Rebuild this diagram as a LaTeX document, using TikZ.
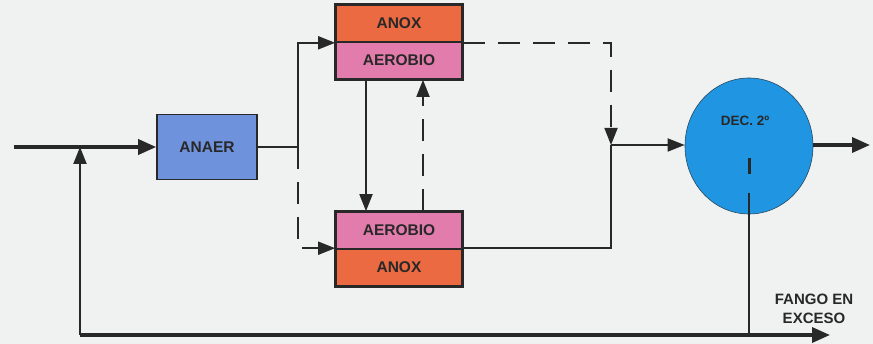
\documentclass[tikz,border=0pt]{standalone}
\usepackage{fontspec}
\setmainfont{Liberation Sans}
\usetikzlibrary{arrows.meta,shapes.geometric}
\definecolor{bgpaper}{RGB}{240,241,241}
\definecolor{anoxcol}{RGB}{236,106,66}
\definecolor{aerocol}{RGB}{226,124,172}
\definecolor{anaercol}{RGB}{110,146,220}
\definecolor{deccol}{RGB}{32,150,226}
\definecolor{linecol}{RGB}{40,40,40}
\tikzset{
  half/.style={draw=linecol,line width=1.6pt,minimum width=126pt,minimum height=37pt,
    inner sep=0pt,font=\bfseries\fontsize{15.5}{17}\selectfont,text=linecol},
  flow/.style={draw=linecol,line width=1.8pt,-{Triangle[length=17pt,width=13pt]}},
  plain/.style={draw=linecol,line width=1.8pt},
  main/.style={draw=linecol,line width=3.5pt,-{Triangle[length=18pt,width=15pt]}},
  dashflow/.style={flow,dash pattern=on 22pt off 13pt},
}
\begin{document}
\begin{tikzpicture}[x=1pt,y=1pt]
\fill[bgpaper] (0,0) rectangle (873,-344);
\useasboundingbox (0,0) rectangle (873,-344);
% reactors
\node[half,fill=anaercol,minimum width=100pt,minimum height=65pt] (anaer) at (207,-147) {ANAER};
\node[half,fill=anoxcol] (anoxA) at (399,-23.5) {ANOX};
\node[half,fill=aerocol] (aerA) at (399,-60.5) {AEROBIO};
\node[half,fill=aerocol] (aerB) at (399,-230.5) {AEROBIO};
\node[half,fill=anoxcol] (anoxB) at (399,-267.5) {ANOX};
\draw[linecol,line width=1.6pt] (anoxA.north west) rectangle (aerA.south east);
\draw[linecol,line width=1.6pt] (aerB.north west) rectangle (anoxB.south east);
\node[ellipse,draw=linecol!70!deccol,line width=0.6pt,fill=deccol,minimum width=128pt,minimum height=136pt,
  inner sep=0pt] (dec) at (749,-146) {};
\node[font=\bfseries\fontsize{13.5}{15}\selectfont,text=linecol] (declab) at (745,-121) {DEC. 2º};
\node[font=\bfseries\fontsize{15}{19}\selectfont,text=linecol,align=center] (fango) at (814,-309) {FANGO EN\\EXCESO};
% points of the lines
\coordinate (in) at (14,-147);
\coordinate (spl) at (298,-147);
\coordinate (jn) at (611,-145);
\coordinate (out) at (870,-145);
\coordinate (fb) at (80,-335);
\coordinate (purge) at (830,-335);
\coordinate (drawoff) at (749,-193);
\coordinate (markA) at (749,-158);
\coordinate (markB) at (749,-174);
% connectors
\draw[main] (in) -- (anaer.west);
\draw[plain] (anaer.east) -- (spl);
\draw[flow] (spl) |- (anoxA.south west);
\draw[dashflow] (spl) |- (anoxB.north west);
\draw[flow] (aerA.south west -| 366,0) -- (aerB.north west -| 366,0);
\draw[dashflow] (aerB.north west -| 423,0) -- (aerA.south west -| 423,0);
\draw[dashflow] (anoxA.south east) -| (jn);
\draw[plain] (anoxB.north east) -| (jn);
\draw[flow] (jn) -- (jn -| dec.west);
\draw[main] (jn -| dec.east) -- (out);
\draw[plain,line width=3pt] (markA) -- (markB);
\draw[plain] (drawoff) -- (drawoff |- fb);
\draw[main] (fb) -- (purge);
\draw[flow,line width=2.2pt] (fb) -- (fb |- in);
\end{tikzpicture}
\end{document}
